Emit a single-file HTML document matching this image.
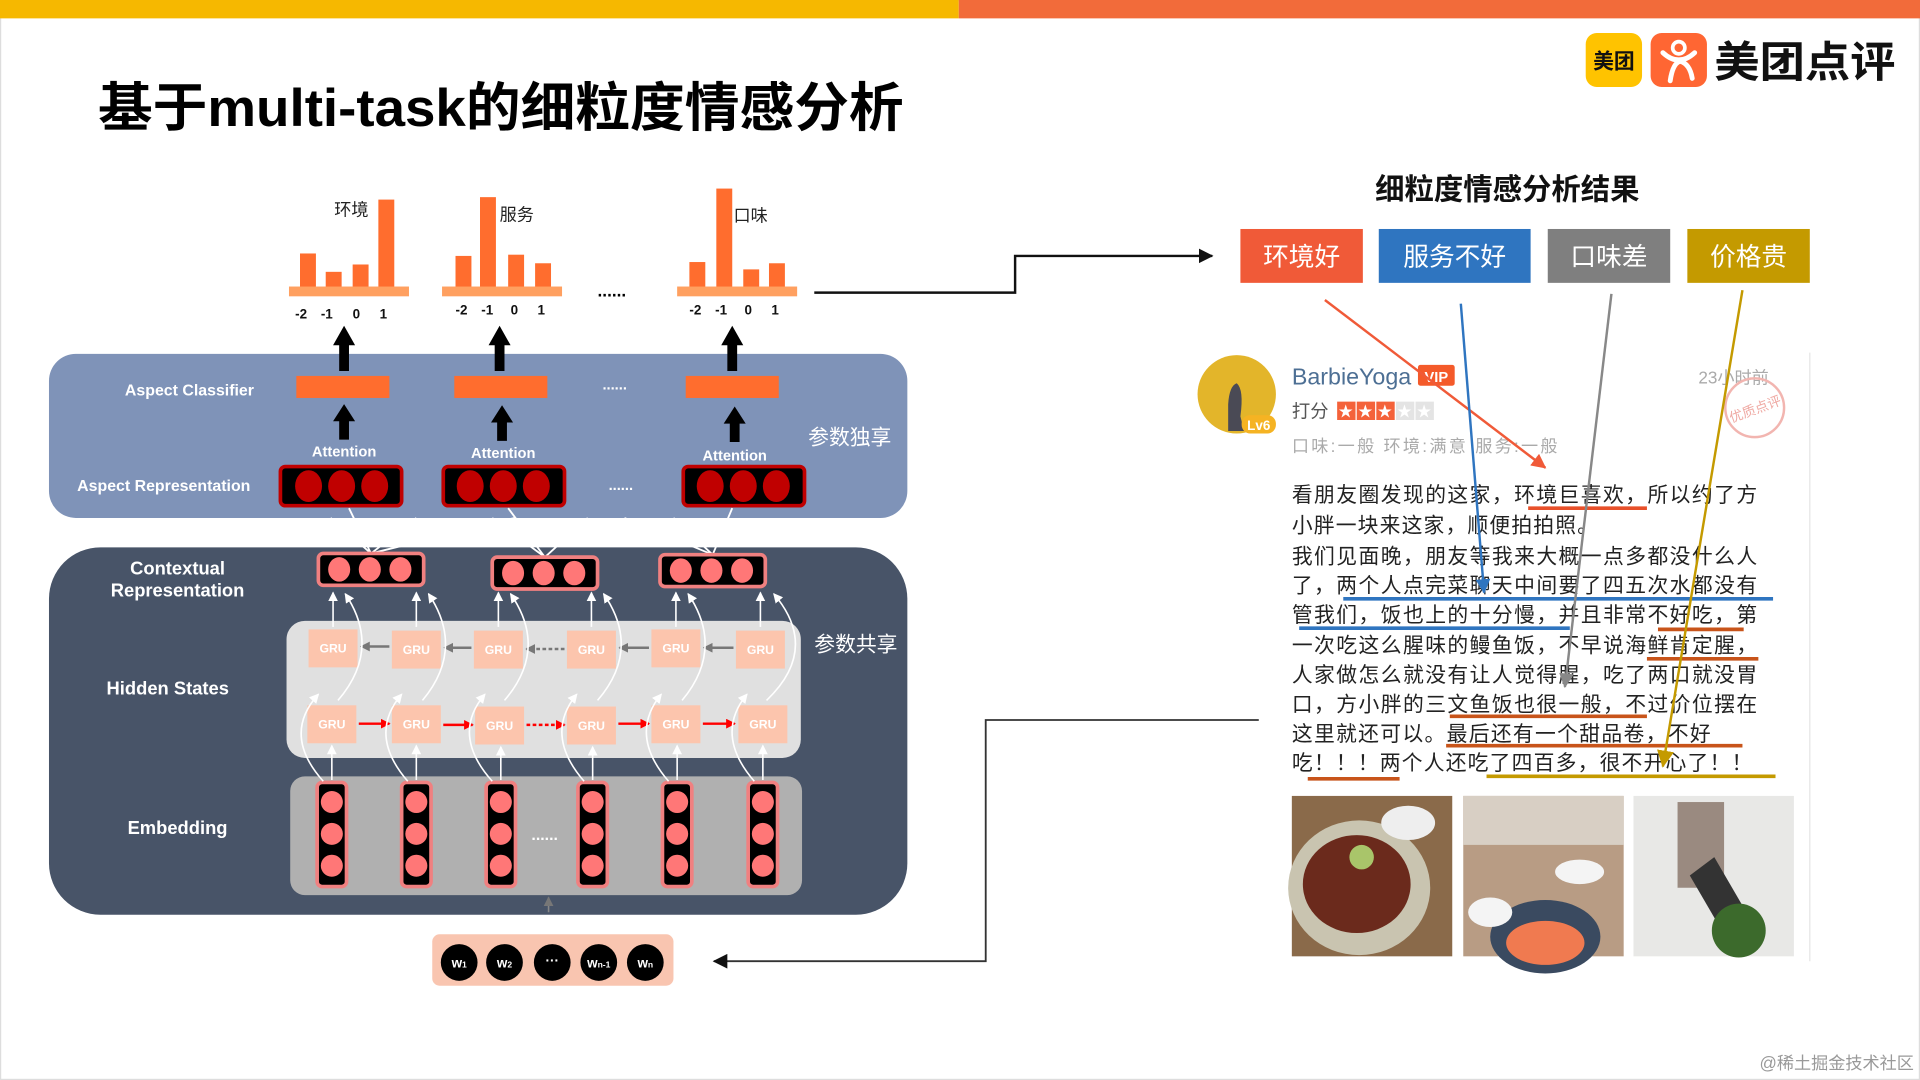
<!DOCTYPE html>
<html><head><meta charset="utf-8"><style>
html,body{margin:0;padding:0;background:#fff;}
svg{display:block;}
text{font-family:"Liberation Sans","Noto Sans CJK SC",sans-serif;}
.w{fill:#fff;font-weight:bold;}
.g{fill:#fcc5ad;}
.gt{fill:#fff;font-size:10px;text-anchor:middle;font-weight:bold;}
.rv{font-size:17px;fill:#222;}
</style></head><body>
<svg width="1920" height="1080" viewBox="0 0 1568 882" preserveAspectRatio="none" xmlns="http://www.w3.org/2000/svg">
<defs>
<marker id="ab" markerWidth="8" markerHeight="8" refX="7" refY="4" orient="auto" markerUnits="userSpaceOnUse"><path d="M0,0 L8,4 L0,8z" fill="#000"/></marker>
<marker id="aw" markerWidth="8" markerHeight="8" refX="7" refY="4" orient="auto" markerUnits="userSpaceOnUse"><path d="M0,0 L8,4 L0,8z" fill="#fff"/></marker>
<marker id="ag" markerWidth="8" markerHeight="8" refX="7" refY="4" orient="auto" markerUnits="userSpaceOnUse"><path d="M0,0 L8,4 L0,8z" fill="#777"/></marker>
<marker id="ar" markerWidth="8" markerHeight="8" refX="7" refY="4" orient="auto" markerUnits="userSpaceOnUse"><path d="M0,0 L8,4 L0,8z" fill="#f00"/></marker>
<marker id="mo" markerWidth="12" markerHeight="12" refX="11" refY="6" orient="auto" markerUnits="userSpaceOnUse"><path d="M0,0 L12,6 L0,12z" fill="#f05a38"/></marker>
<marker id="mb" markerWidth="12" markerHeight="12" refX="11" refY="6" orient="auto" markerUnits="userSpaceOnUse"><path d="M0,0 L12,6 L0,12z" fill="#2f75c0"/></marker>
<marker id="mg" markerWidth="12" markerHeight="12" refX="11" refY="6" orient="auto" markerUnits="userSpaceOnUse"><path d="M0,0 L12,6 L0,12z" fill="#888"/></marker>
<marker id="my" markerWidth="14" markerHeight="14" refX="13" refY="7" orient="auto" markerUnits="userSpaceOnUse"><path d="M0,0 L14,7 L0,14z" fill="#c49a00"/></marker>
<marker id="mk" markerWidth="12" markerHeight="12" refX="11" refY="6" orient="auto" markerUnits="userSpaceOnUse"><path d="M0,0 L12,6 L0,12z" fill="#111"/></marker>
</defs>
<rect x="0.5" y="0.5" width="1567" height="881" fill="#fff" stroke="#ddd"/>
<rect x="0" y="0" width="783" height="15" fill="#f6b800"/>
<rect x="783" y="0" width="785" height="15" fill="#f26b3a"/>
<text x="80" y="103" font-size="43" font-weight="bold" fill="#000" textLength="658" lengthAdjust="spacingAndGlyphs">基于multi-task的细粒度情感分析</text>
<!-- logo -->
<rect x="1295" y="27" width="46" height="44" rx="9" fill="#ffc300"/>
<text x="1318" y="56" font-size="17" font-weight="bold" text-anchor="middle" fill="#111">美团</text>
<rect x="1348" y="27" width="46" height="44" rx="9" fill="#ff6633"/>
<circle cx="1371" cy="39" r="5" fill="none" stroke="#fff" stroke-width="3"/>
<path d="M1358,43 Q1371,55 1384,43 M1364,66 Q1366,52 1372,50 Q1380,52 1382,64" fill="none" stroke="#fff" stroke-width="4" stroke-linecap="round"/>
<text x="1400" y="63" font-size="35" font-weight="bold" fill="#111" textLength="148" lengthAdjust="spacingAndGlyphs">美团点评</text>
<!-- charts -->
<g fill="#ff6d2e">
<rect x="245" y="207" width="13" height="28"/><rect x="266" y="222" width="13" height="13"/><rect x="288" y="216" width="13" height="19"/><rect x="309" y="163" width="13" height="72"/>
<rect x="372" y="209" width="13" height="26"/><rect x="392" y="161" width="13" height="74"/><rect x="415" y="208" width="13" height="27"/><rect x="437" y="215" width="13" height="20"/>
<rect x="563" y="214" width="13" height="21"/><rect x="585" y="154" width="13" height="81"/><rect x="607" y="220" width="13" height="15"/><rect x="628" y="215" width="13" height="20"/>
</g>
<g fill="#ffa060"><rect x="236" y="234" width="98" height="8"/><rect x="361" y="234" width="98" height="8"/><rect x="553" y="234" width="98" height="8"/></g>
<g font-size="14" fill="#222" font-family="Liberation Serif,Noto Serif CJK SC,serif"><text x="273" y="176">环境</text><text x="408" y="180">服务</text><text x="599" y="181">口味</text></g>
<g font-size="11" font-weight="bold" fill="#111">
<text x="241" y="260">-2</text><text x="262" y="260">-1</text><text x="288" y="260">0</text><text x="310" y="260">1</text>
<text x="372" y="257">-2</text><text x="393" y="257">-1</text><text x="417" y="257">0</text><text x="439" y="257">1</text>
<text x="563" y="257">-2</text><text x="584" y="257">-1</text><text x="608" y="257">0</text><text x="630" y="257">1</text>
</g>
<text x="488" y="242" font-size="14" font-weight="bold">......</text>
<path d="M665,239 H829 V209 H990" fill="none" stroke="#111" stroke-width="2" marker-end="url(#mk)"/>
<!-- upper panel -->
<rect x="40" y="289" width="701" height="134" rx="22" fill="#7f93b8"/>
<text class="w" x="102" y="323" font-size="13">Aspect Classifier</text>
<text class="w" x="63" y="401" font-size="13">Aspect Representation</text>
<text x="660" y="363" font-size="17" fill="#fff">参数独享</text>
<g fill="#ff6d2e"><rect x="242" y="307" width="76" height="18"/><rect x="371" y="307" width="76" height="18"/><rect x="560" y="307" width="76" height="18"/></g>
<text x="492" y="318" font-size="12" fill="#fff" font-weight="bold">......</text>
<g fill="#000">
<path d="M277,303 V282 H272 L281,266 L290,282 H285 V303Z"/>
<path d="M404,303 V282 H399 L408,266 L417,282 H412 V303Z"/>
<path d="M594,303 V282 H589 L598,266 L607,282 H602 V303Z"/>
<path d="M277,359 V344 H272 L281,330 L290,344 H285 V359Z"/>
<path d="M406,360 V345 H401 L410,331 L419,345 H414 V360Z"/>
<path d="M596,361 V346 H591 L600,332 L609,346 H604 V361Z"/>
</g>
<g class="w" font-size="12" text-anchor="middle"><text x="281" y="373">Attention</text><text x="411" y="374">Attention</text><text x="600" y="376">Attention</text></g>
<g stroke="#c00000" stroke-width="3" fill="#000">
<rect x="229" y="381" width="99" height="32" rx="4"/><rect x="362" y="381" width="99" height="32" rx="4"/><rect x="558" y="381" width="99" height="32" rx="4"/>
</g>
<g fill="#c00000">
<ellipse cx="252" cy="397" rx="11" ry="13"/><ellipse cx="279" cy="397" rx="11" ry="13"/><ellipse cx="306" cy="397" rx="11" ry="13"/>
<ellipse cx="384" cy="397" rx="11" ry="13"/><ellipse cx="411" cy="397" rx="11" ry="13"/><ellipse cx="438" cy="397" rx="11" ry="13"/>
<ellipse cx="580" cy="397" rx="11" ry="13"/><ellipse cx="607" cy="397" rx="11" ry="13"/><ellipse cx="634" cy="397" rx="11" ry="13"/>
</g>
<text x="497" y="400" font-size="12" fill="#fff" font-weight="bold">......</text>
<!-- lower panel -->
<rect x="40" y="447" width="701" height="300" rx="42" fill="#485468"/>
<g stroke="#fff" stroke-width="1.5" fill="none">
<path d="M303,452 L285,415 M303,452 L340,423 M303,452 L270,423 M445,455 L415,415 M445,455 L402,423 M445,455 L480,423 M582,453 L598,415 M582,453 L510,423 M582,453 L550,423 M303,452 L420,423"/>
</g>
<g stroke="#f08080" stroke-width="3" fill="#000">
<rect x="260" y="452" width="86" height="26" rx="4"/><rect x="402" y="455" width="86" height="26" rx="4"/><rect x="539" y="453" width="86" height="26" rx="4"/>
</g>
<g fill="#ff7777">
<ellipse cx="277" cy="465" rx="9" ry="10"/><ellipse cx="302" cy="465" rx="9" ry="10"/><ellipse cx="327" cy="465" rx="9" ry="10"/>
<ellipse cx="419" cy="468" rx="9" ry="10"/><ellipse cx="444" cy="468" rx="9" ry="10"/><ellipse cx="469" cy="468" rx="9" ry="10"/>
<ellipse cx="556" cy="466" rx="9" ry="10"/><ellipse cx="581" cy="466" rx="9" ry="10"/><ellipse cx="606" cy="466" rx="9" ry="10"/>
</g>
<g class="w" font-size="15" text-anchor="middle"><text x="145" y="469">Contextual</text><text x="145" y="487">Representation</text><text x="137" y="567">Hidden States</text><text x="145" y="681">Embedding</text></g>
<rect x="234" y="507" width="420" height="112" rx="15" fill="#e0e0e0"/>
<rect x="237" y="634" width="418" height="97" rx="12" fill="#b0b0b0"/>
<text x="665" y="532" font-size="17" fill="#fff">参数共享</text>
<!-- GRUs -->
<g class="g">
<rect x="252" y="514" width="40" height="31"/><rect x="320" y="515" width="40" height="31"/><rect x="387" y="515" width="40" height="31"/><rect x="463" y="515" width="40" height="31"/><rect x="532" y="514" width="40" height="31"/><rect x="601" y="515" width="40" height="31"/>
<rect x="251" y="576" width="40" height="31"/><rect x="320" y="576" width="40" height="31"/><rect x="388" y="577" width="40" height="31"/><rect x="463" y="577" width="40" height="31"/><rect x="532" y="576" width="40" height="31"/><rect x="603" y="576" width="40" height="31"/>
</g>
<g class="gt">
<text x="272" y="533">GRU</text><text x="340" y="534">GRU</text><text x="407" y="534">GRU</text><text x="483" y="534">GRU</text><text x="552" y="533">GRU</text><text x="621" y="534">GRU</text>
<text x="271" y="595">GRU</text><text x="340" y="595">GRU</text><text x="408" y="596">GRU</text><text x="483" y="596">GRU</text><text x="552" y="595">GRU</text><text x="623" y="595">GRU</text>
</g>
<g stroke="#777" stroke-width="2" marker-end="url(#ag)">
<line x1="318" y1="528" x2="295" y2="528"/><line x1="385" y1="529" x2="363" y2="529"/><line x1="461" y1="530" x2="430" y2="530" stroke-dasharray="3,2"/><line x1="530" y1="529" x2="506" y2="529"/><line x1="599" y1="529" x2="575" y2="529"/>
</g>
<g stroke="#f00" stroke-width="2" marker-end="url(#ar)">
<line x1="293" y1="591" x2="318" y2="591"/><line x1="362" y1="592" x2="386" y2="592"/><line x1="430" y1="592" x2="461" y2="592" stroke-dasharray="3,2"/><line x1="505" y1="591" x2="530" y2="591"/><line x1="574" y1="591" x2="600" y2="591"/>
</g>
<!-- embedding -->
<g stroke="#f08080" stroke-width="3" fill="#000">
<rect x="259" y="639" width="24" height="85" rx="4"/><rect x="328" y="639" width="24" height="85" rx="4"/><rect x="397" y="639" width="24" height="85" rx="4"/><rect x="472" y="639" width="24" height="85" rx="4"/><rect x="541" y="639" width="24" height="85" rx="4"/><rect x="611" y="639" width="24" height="85" rx="4"/>
</g>
<g fill="#ff7777">
<circle cx="271" cy="655" r="9"/><circle cx="271" cy="681" r="9"/><circle cx="271" cy="707" r="9"/>
<circle cx="340" cy="655" r="9"/><circle cx="340" cy="681" r="9"/><circle cx="340" cy="707" r="9"/>
<circle cx="409" cy="655" r="9"/><circle cx="409" cy="681" r="9"/><circle cx="409" cy="707" r="9"/>
<circle cx="484" cy="655" r="9"/><circle cx="484" cy="681" r="9"/><circle cx="484" cy="707" r="9"/>
<circle cx="553" cy="655" r="9"/><circle cx="553" cy="681" r="9"/><circle cx="553" cy="707" r="9"/>
<circle cx="623" cy="655" r="9"/><circle cx="623" cy="681" r="9"/><circle cx="623" cy="707" r="9"/>
</g>
<text x="434" y="686" font-size="13" fill="#fff" font-weight="bold">......</text>
<!-- white arrows -->
<g stroke="#fff" stroke-width="1.3" fill="none" marker-end="url(#aw)">
<line x1="271" y1="637" x2="271" y2="609"/><line x1="340" y1="637" x2="340" y2="609"/><line x1="409" y1="637" x2="409" y2="610"/><line x1="484" y1="637" x2="484" y2="610"/><line x1="553" y1="637" x2="553" y2="609"/><line x1="623" y1="637" x2="623" y2="609"/>
<line x1="272" y1="512" x2="272" y2="484"/><line x1="340" y1="512" x2="340" y2="484"/><line x1="407" y1="512" x2="407" y2="484"/><line x1="483" y1="512" x2="483" y2="484"/><line x1="552" y1="512" x2="552" y2="484"/><line x1="621" y1="512" x2="621" y2="484"/>
<path d="M264,638 Q230,600 260,567"/><path d="M333,638 Q300,600 328,567"/><path d="M402,638 Q368,600 396,567"/><path d="M477,638 Q444,600 471,567"/><path d="M546,638 Q513,600 540,567"/><path d="M616,638 Q583,600 610,567"/>
<path d="M276,572 Q312,530 282,485"/><path d="M345,572 Q380,530 350,485"/><path d="M412,572 Q448,530 417,485"/><path d="M488,572 Q524,530 493,485"/><path d="M557,572 Q592,530 562,485"/><path d="M626,572 Q670,530 632,485"/>
</g>
<line x1="448" y1="745" x2="448" y2="733" stroke="#888" stroke-width="1.3" marker-end="url(#ag)"/>
<!-- input -->
<rect x="353" y="763" width="197" height="42" rx="6" fill="#f9c5b0"/>
<g fill="#000"><circle cx="375" cy="786" r="15"/><circle cx="412" cy="786" r="15"/><circle cx="451" cy="786" r="15"/><circle cx="489" cy="786" r="15"/><circle cx="527" cy="786" r="15"/></g>
<g fill="#fff" font-size="11" font-weight="bold" text-anchor="middle">
<text x="375" y="790">w<tspan font-size="7">1</tspan></text><text x="412" y="790">w<tspan font-size="7">2</tspan></text><text x="451" y="788">···</text><text x="489" y="790">w<tspan font-size="7">n-1</tspan></text><text x="527" y="790">w<tspan font-size="7">n</tspan></text>
</g>
<path d="M1028,588 H805 V785 H583" fill="none" stroke="#333" stroke-width="1.5" marker-end="url(#mk)"/>
<!-- right side -->
<text x="1231" y="163" font-size="24" font-weight="bold" text-anchor="middle" fill="#111">细粒度情感分析结果</text>
<rect x="1013" y="187" width="100" height="44" fill="#f05a38"/><rect x="1126" y="187" width="124" height="44" fill="#2f75c0"/><rect x="1264" y="187" width="100" height="44" fill="#7f7f7f"/><rect x="1378" y="187" width="100" height="44" fill="#c49a00"/>
<g fill="#fff" font-size="21" text-anchor="middle"><text x="1063" y="217">环境好</text><text x="1188" y="217">服务不好</text><text x="1314" y="217">口味差</text><text x="1428" y="217">价格贵</text></g>
<line x1="1478" y1="288" x2="1478" y2="785" stroke="#e6e6e6"/>
<circle cx="1010" cy="322" r="32" fill="#e3b52a"/>
<path d="M1003,330 Q1004,315 1010,313 Q1016,318 1013,340 L1016,352 L1003,352Z" fill="#4a4a55"/>
<rect x="1014" y="339" width="28" height="15" rx="7" fill="#f5b323"/><text x="1028" y="351" font-size="11" font-weight="bold" fill="#fff" text-anchor="middle">Lv6</text>
<text x="1055" y="314" font-size="19" fill="#4d6f94">BarbieYoga</text>
<rect x="1158" y="298" width="30" height="17" rx="2" fill="#f45a2a"/><text x="1173" y="312" font-size="12" font-weight="bold" fill="#fff" text-anchor="middle">VIP</text>
<text x="1387" y="313" font-size="14" fill="#aaa">23小时前</text>
<circle cx="1433" cy="333" r="24" fill="none" stroke="#f2b5b0" stroke-width="2"/><text x="1433" y="338" font-size="11" fill="#efa9a3" text-anchor="middle" transform="rotate(-20 1433 333)">优质点评</text>
<text x="1055" y="341" font-size="15" fill="#555">打分</text>
<g><rect x="1092" y="328" width="15" height="15" fill="#f4623a"/><rect x="1108" y="328" width="15" height="15" fill="#f4623a"/><rect x="1124" y="328" width="15" height="15" fill="#f4623a"/><rect x="1140" y="328" width="15" height="15" fill="#e4e4e4"/><rect x="1156" y="328" width="15" height="15" fill="#e4e4e4"/></g>
<g fill="#fff" font-size="12" text-anchor="middle"><text x="1099" y="340">★</text><text x="1115" y="340">★</text><text x="1131" y="340">★</text><text x="1147" y="340">★</text><text x="1163" y="340">★</text></g>
<text x="1055" y="369" font-size="14" fill="#aaa" textLength="217">口味:一般  环境:满意  服务:一般</text>
<g class="rv" lengthAdjust="spacingAndGlyphs">
<text x="1055" y="410" textLength="380">看朋友圈发现的这家，环境巨喜欢，所以约了方</text>
<text x="1055" y="435" textLength="250">小胖一块来这家，顺便拍拍照。</text>
<text x="1055" y="460" textLength="380">我们见面晚，朋友等我来大概一点多都没什么人</text>
<text x="1055" y="484" textLength="380">了，两个人点完菜聊天中间要了四五次水都没有</text>
<text x="1055" y="508" textLength="380">管我们，饭也上的十分慢，并且非常不好吃，第</text>
<text x="1055" y="533" textLength="380">一次吃这么腥味的鳗鱼饭，不早说海鲜肯定腥，</text>
<text x="1055" y="557" textLength="380">人家做怎么就没有让人觉得腥，吃了两口就没胃</text>
<text x="1055" y="581" textLength="380">口，方小胖的三文鱼饭也很一般，不过价位摆在</text>
<text x="1055" y="605" textLength="342">这里就还可以。最后还有一个甜品卷，不好</text>
<text x="1055" y="629" textLength="376">吃！！！两个人还吃了四百多，很不开心了！！</text>
</g>
<g stroke-width="3">
<line x1="1248" y1="415" x2="1345" y2="415" stroke="#e8502a"/>
<line x1="1097" y1="489" x2="1448" y2="489" stroke="#2f75c0"/>
<line x1="1061" y1="513" x2="1282" y2="513" stroke="#2f75c0"/>
<line x1="1354" y1="514" x2="1424" y2="514" stroke="#c8541a"/>
<line x1="1345" y1="538" x2="1436" y2="538" stroke="#c8541a"/>
<line x1="1184" y1="585" x2="1345" y2="585" stroke="#c8541a"/>
<line x1="1181" y1="609" x2="1423" y2="609" stroke="#c8541a"/>
<line x1="1068" y1="636" x2="1143" y2="636" stroke="#c8541a"/>
<line x1="1214" y1="634" x2="1450" y2="634" stroke="#c49a00"/>
</g>
<g stroke-width="2" fill="none">
<line x1="1082" y1="245" x2="1262" y2="382" stroke="#f05a38" marker-end="url(#mo)"/>
<line x1="1193" y1="248" x2="1212" y2="484" stroke="#2f75c0" marker-end="url(#mb)"/>
<line x1="1316" y1="240" x2="1278" y2="561" stroke="#888" marker-end="url(#mg)"/>
<line x1="1423" y1="237" x2="1358" y2="626" stroke="#c49a00" marker-end="url(#my)"/>
</g>
<!-- photos -->
<rect x="1055" y="650" width="131" height="131" fill="#8a6a4a"/>
<ellipse cx="1110" cy="725" rx="58" ry="55" fill="#c9c4b0"/><ellipse cx="1108" cy="722" rx="44" ry="40" fill="#6b2a1c"/><circle cx="1112" cy="700" r="10" fill="#a9c56a"/><ellipse cx="1150" cy="672" rx="22" ry="14" fill="#eee"/>
<rect x="1195" y="650" width="131" height="131" fill="#b89c84"/>
<rect x="1195" y="650" width="131" height="40" fill="#d8cfc4"/><ellipse cx="1262" cy="765" rx="45" ry="30" fill="#3a4a60"/><ellipse cx="1262" cy="770" rx="32" ry="18" fill="#f07a50"/><ellipse cx="1217" cy="745" rx="18" ry="12" fill="#f4f4f4"/><ellipse cx="1290" cy="712" rx="20" ry="10" fill="#f4f4f4"/>
<rect x="1334" y="650" width="131" height="131" fill="#e8e8e6"/>
<rect x="1370" y="655" width="38" height="70" fill="#9a8a80"/><path d="M1380,715 L1400,700 L1432,755 L1412,770Z" fill="#333"/><circle cx="1420" cy="760" r="22" fill="#3c6a2c"/>
<text x="1563" y="873" font-size="14" fill="#999" text-anchor="end">@稀土掘金技术社区</text>
</svg>
</body></html>
